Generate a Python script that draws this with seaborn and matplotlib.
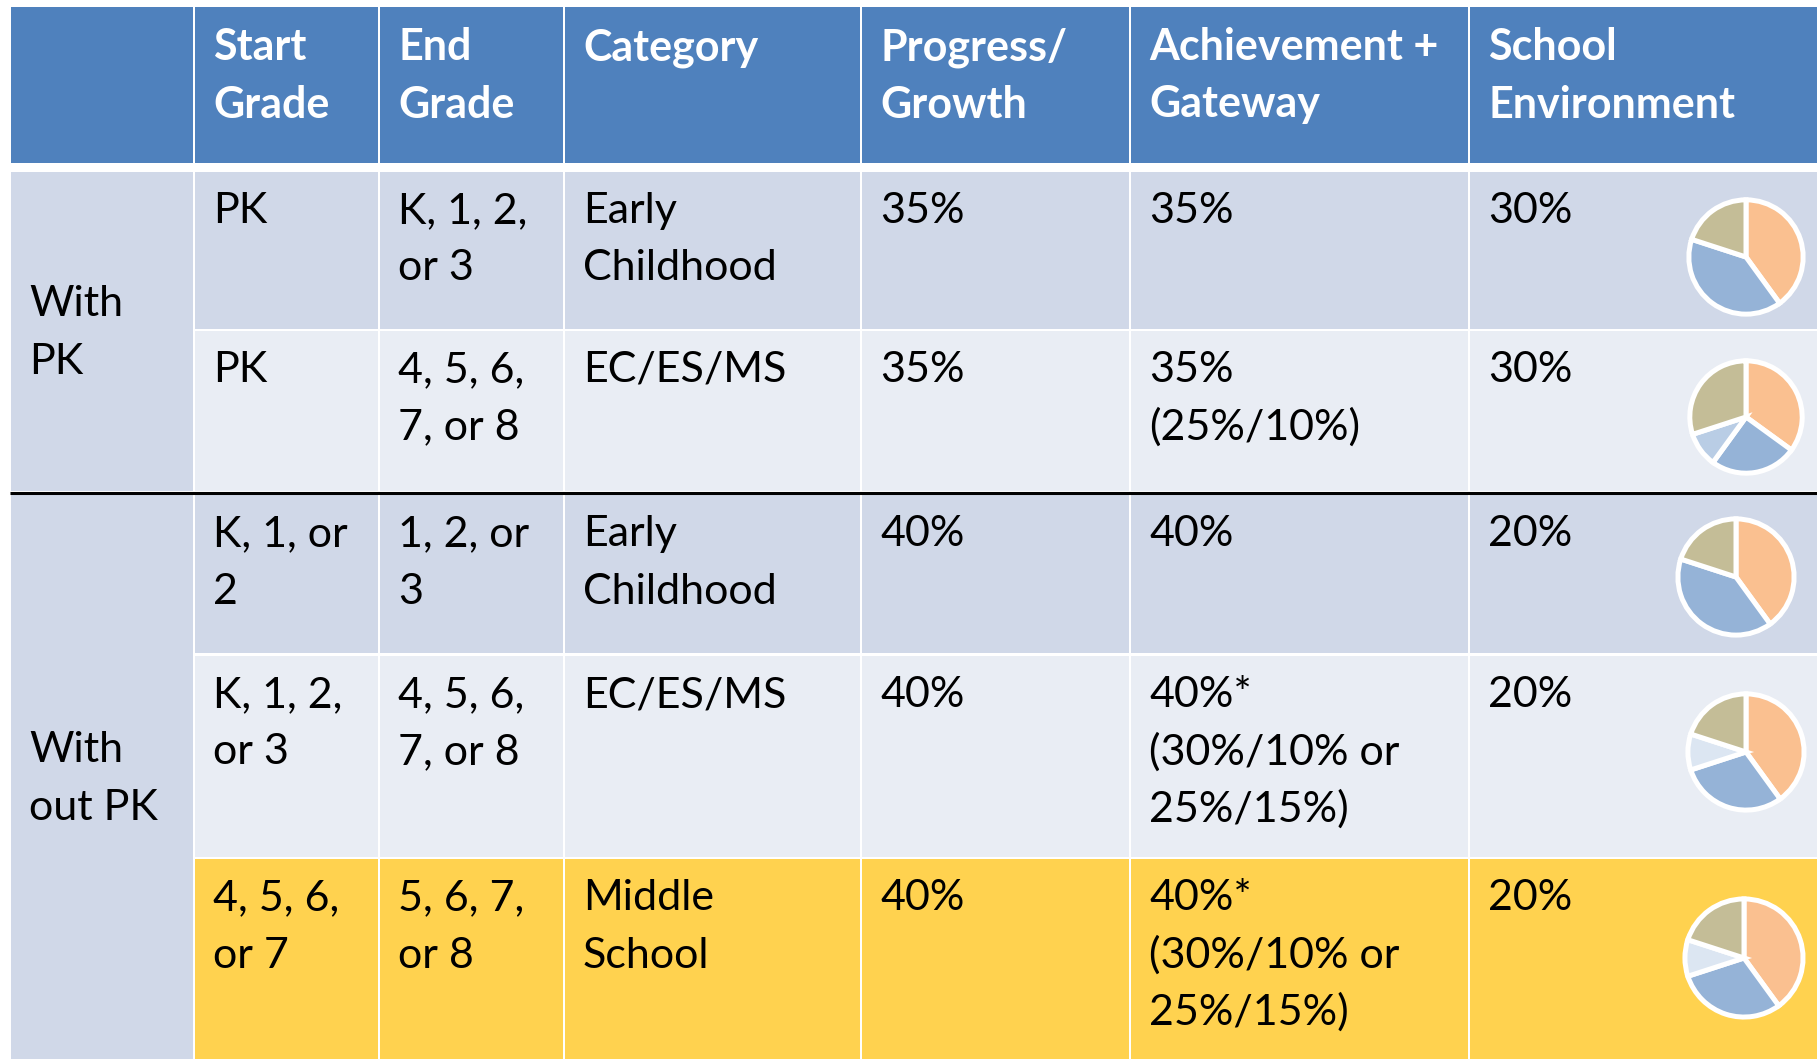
import numpy as np
import matplotlib
matplotlib.use("Agg")
import matplotlib.pyplot as plt
from matplotlib.patches import Rectangle
import seaborn as sns

# ---- table content ----
headers = ["", "Start\nGrade", "End\nGrade", "Category", "Progress/\nGrowth",
           "Achievement +\nGateway", "School\nEnvironment"]
groups = ["With\nPK", "With\nout PK"]
group_rows = [(0, 1), (2, 4)]
start_grade = ["PK", "PK", "K, 1, or\n2", "K, 1, 2,\nor 3", "4, 5, 6,\nor 7"]
end_grade = ["K, 1, 2,\nor 3", "4, 5, 6,\n7, or 8", "1, 2, or\n3", "4, 5, 6,\n7, or 8", "5, 6, 7,\nor 8"]
category = ["Early\nChildhood", "EC/ES/MS", "Early\nChildhood", "EC/ES/MS", "Middle\nSchool"]
progress = ["35%", "35%", "40%", "40%", "40%"]
achievement = ["35%", "35%\n(25%/10%)", "40%", "40%*\n(30%/10% or\n25%/15%)",
               "40%*\n(30%/10% or\n25%/15%)"]
environment = ["30%", "30%", "20%", "20%", "20%"]

# pie shares as drawn (clockwise from 12 o'clock)
pie_progress = [40, 35, 40, 40, 40]
pie_achievement = [40, 25, 40, 30, 30]
pie_gateway = [0, 10, 0, 10, 10]
pie_environment = [20, 30, 20, 20, 20]

# ---- layout (pixels) ----
W, H = 1817, 1060
col_edges = [10, 194, 379, 564, 861, 1130, 1469, 1818]
header_y = (7, 163)
row_y = [(172, 329), (331, 491), (495, 653), (656, 857), (859, 1059)]
pie_centers = [(1746, 257), (1746, 417), (1736, 577), (1746, 752), (1744, 958)]
pie_r = [60, 59, 61, 61, 62]

BLUE = "#4F81BD"
DARK = "#D0D8E8"
LIGHT = "#E9EDF4"
YELLOW = "#FFD24F"
row_colors = [DARK, LIGHT, DARK, LIGHT, YELLOW]
gateway_colors = ["#DCE6F2", "#B9CDE5", "#DCE6F2", "#DCE6F2", "#DCE6F2"]
pie_base = ["#FAC090", "#95B3D7", None, "#C4BD97"]

sns.set_theme(style="white")
plt.rcParams["font.family"] = ["Lato", "DejaVu Sans"]
FS = 31

fig = plt.figure(figsize=(W / 100, H / 100), dpi=100)
ax = fig.add_axes([0, 0, 1, 1])
ax.set_xlim(0, W)
ax.set_ylim(H, 0)
ax.axis("off")


def cell(x0, x1, y0, y1, color):
    ax.add_patch(Rectangle((x0 + 1, y0), x1 - x0 - 2, y1 - y0, facecolor=color,
                           edgecolor="none", zorder=1))


def put_text(x, first_base, txt, bold=False, color="black"):
    for i, line in enumerate(txt.split("\n")):
        ax.text(x, first_base + i * 57.5, line, fontsize=FS, color=color,
                fontweight="bold" if bold else "normal", va="baseline", ha="left", zorder=3)


# header
for c in range(7):
    cell(col_edges[c], col_edges[c + 1], header_y[0], header_y[1], BLUE)
    if headers[c]:
        put_text(col_edges[c] + 19, 60, headers[c], bold=True, color="white")

# group column
for g, (r0, r1) in enumerate(group_rows):
    y0, y1 = row_y[r0][0], row_y[r1][1]
    if g == 1:
        y0 = y0 - 3
    cell(col_edges[0], col_edges[1], y0, y1, DARK)
    mid = (row_y[r0][0] + row_y[r1][1]) / 2
    put_text(col_edges[0] + 19, mid - 15, groups[g])

# body
columns = [start_grade, end_grade, category, progress, achievement, environment]
for r in range(5):
    y0, y1 = row_y[r]
    for c in range(1, 7):
        cell(col_edges[c], col_edges[c + 1], y0, y1, row_colors[r])
        put_text(col_edges[c] + 19, y0 + 51, columns[c - 1][r])

# black separator between groups
ax.plot([10, W], [492.5, 492.5], color="black", lw=2.2, zorder=4,
        solid_capstyle="butt")

# pies
for r in range(5):
    cx, cy = pie_centers[r]
    rad = pie_r[r]
    pax = fig.add_axes([(cx - rad) / W, 1 - (cy + rad) / H, 2 * rad / W, 2 * rad / H])
    vals = [pie_progress[r], pie_achievement[r], pie_gateway[r], pie_environment[r]]
    cols = [pie_base[0], pie_base[1], gateway_colors[r], pie_base[3]]
    keep = [i for i, v in enumerate(vals) if v > 0]
    pax.pie([vals[i] for i in keep], colors=[cols[i] for i in keep], startangle=90,
            counterclock=False, radius=1.0,
            wedgeprops=dict(edgecolor="white", linewidth=3.6))
    pax.set_xlim(-1.05, 1.05)
    pax.set_ylim(-1.05, 1.05)
    pax.set_aspect("equal")
    pax.axis("off")

fig.savefig("out.png", dpi=100)
